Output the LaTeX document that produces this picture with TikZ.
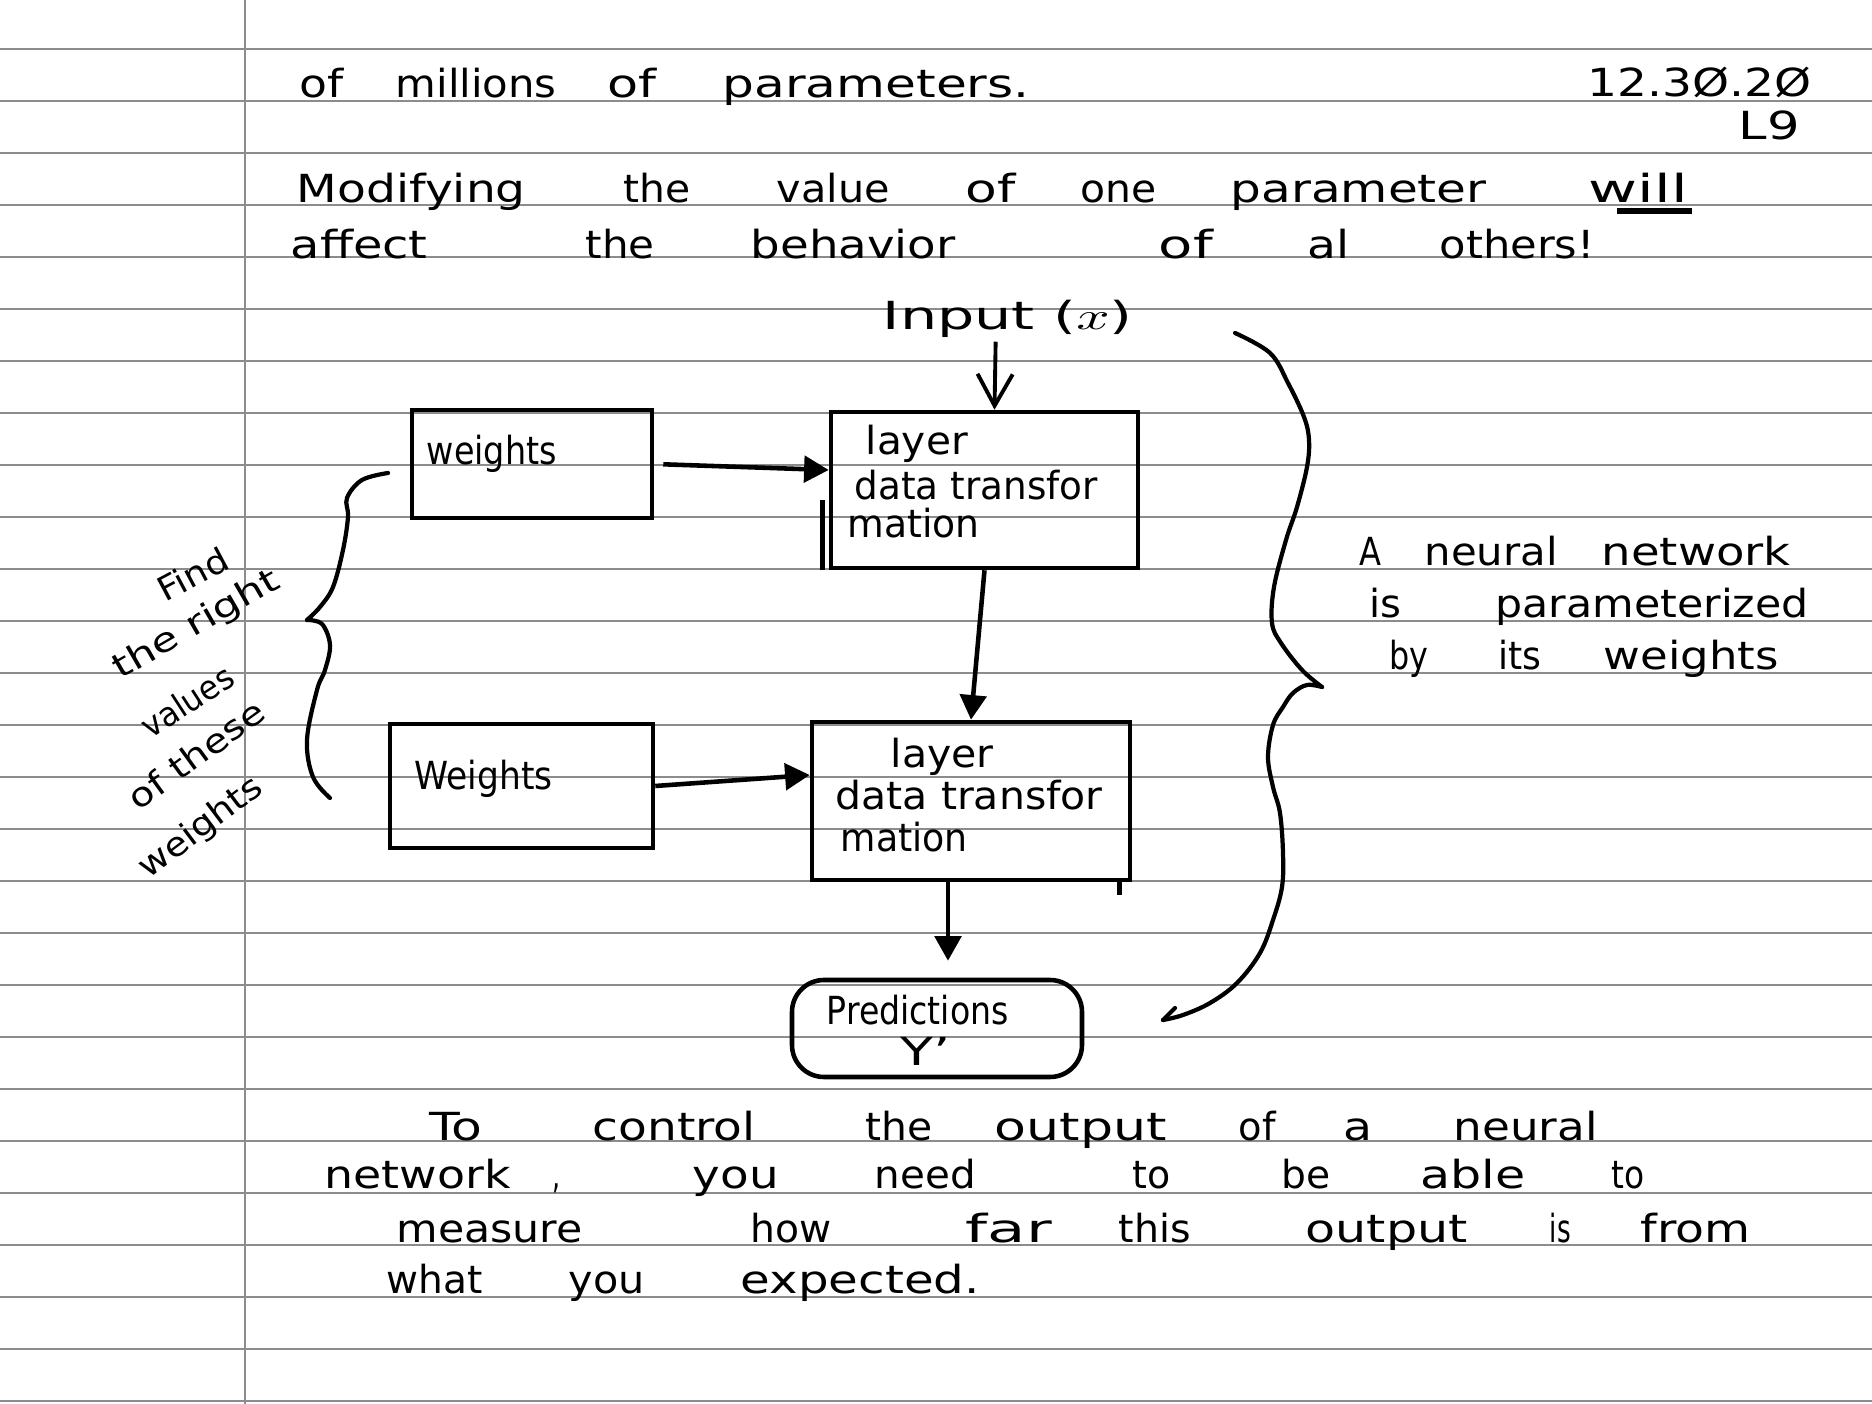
\documentclass[tikz,border=0pt]{standalone}
\usepackage{fontspec}
\setmainfont{DejaVu Sans}
\usepackage{graphicx}
\usetikzlibrary{arrows.meta}
\newlength\pxu
\setlength\pxu{0.01cm}
\newcommand\handfont{\fontsize{11pt}{13pt}\selectfont}
\newcommand\smallhand{\fontsize{9.5pt}{11pt}\selectfont}
\newcommand\textrow[3]{\foreach \wx/\wl/\wt [count=\wi] in {#3} {\node[word] (#1\wi) at (\wx,#2) {\resizebox{\wl\pxu}{\height}{\wt}};}}
\begin{document}
\begin{tikzpicture}[x=0.01cm,y=-0.01cm,
  word/.style={anchor=base west,inner sep=0pt,font=\handfont},
  slant/.style={anchor=base west,inner sep=0pt,font=\smallhand},
  box/.style={draw,line width=1.3pt,inner sep=0pt},
  tri/.style={-{Triangle[length=7pt,width=7.5pt]},line width=1.3pt},
  barb/.style={-{Straight Barb[length=9pt,width=10pt]},line width=1.1pt},
  rule/.style={black!45,line width=0.55pt},
  brace/.style={line width=1.2pt,line cap=round,line join=round}]
\fill[white] (0,0) rectangle (1872,1404);
\useasboundingbox (0,0) rectangle (1872,1404);
% lined paper
\foreach \k in {0,...,26} \draw[rule] (0,{49.3+52*\k}) -- (1872,{49.3+52*\k});
\draw[rule] (245,0) -- (245,1404);
% header
\textrow{h}{98}{299/44/of, 395/161/millions, 607/49/of, 722/307/parameters.}
\node[word] (date) at (1587,97) {\resizebox{224\pxu}{\height}{12.3Ø.2Ø}};
\node[word] (lec) at (1738,140) {\resizebox{61\pxu}{\height}{L9}};
\textrow{m}{203}{296/229/Modifying, 623/67/the, 776/113/value, 965/50/of, 1080/76/one, 1230/256/parameter, 1588/99/will}
\draw[line width=1.6pt] ([xshift=29\pxu,yshift=-8\pxu]m7.base west) -- ([xshift=4\pxu,yshift=-8\pxu]m7.base east);
\textrow{a}{259}{290/137/affect, 585/69/the, 750/205/behavior, 1158/54/of, 1307/42/al, 1439/155/others!}
% input
\node[word] (input) at (882,330) {\resizebox{250\pxu}{\height}{Input ($x$)}};
% boxes
\node[box, minimum width=240\pxu, minimum height=108\pxu] (w1) at (532,464) {};
\node[box, minimum width=307\pxu, minimum height=156\pxu] (L1) at (984.5,490) {};
\node[box, minimum width=263\pxu, minimum height=124\pxu] (w2) at (521.5,786) {};
\node[box, minimum width=318\pxu, minimum height=158\pxu] (L2) at (971,801) {};
\node[box, rounded corners=32\pxu, minimum width=290\pxu, minimum height=97\pxu] (P) at (937,1028.5) {};
% box texts
\node[word] (w1t) at (426,465) {\resizebox{130\pxu}{\height}{weights}};
\node[word] (L1a) at (865,455) {\resizebox{102\pxu}{\height}{layer}};
\node[word] (L1b) at (854,500) {\resizebox{243\pxu}{\height}{data transfor}};
\node[word] (L1c) at (847,538) {\resizebox{132\pxu}{\height}{mation}};
\node[word] (w2t) at (414,790) {\resizebox{138\pxu}{\height}{Weights}};
\node[word] (L2a) at (890,768) {\resizebox{103\pxu}{\height}{layer}};
\node[word] (L2b) at (835,810) {\resizebox{267\pxu}{\height}{data transfor}};
\node[word] (L2c) at (840,852) {\resizebox{127\pxu}{\height}{mation}};
\node[word] (Pa) at (826,1025) {\resizebox{182\pxu}{\height}{Predictions}};
\node[word] (Pb) at (900,1066) {\resizebox{50\pxu}{\height}{Y'}};
% extra hand strokes
\draw[line width=1.3pt] ([xshift=-6\pxu]L1.south west) -- ([xshift=-6\pxu,yshift=70\pxu]L1.south west);
\draw[line width=1.3pt] ([xshift=-13\pxu]L2.south east) -- ([xshift=-13\pxu,yshift=-13\pxu]L2.south east);
% arrows
\draw[barb, shorten <=3\pxu] ([xshift=-12\pxu]input.south) -- ([xshift=10\pxu]L1.north);
\draw[tri, shorten <=9\pxu] (w1.east) -- ([yshift=20\pxu]L1.west);
\draw[tri] (L1.south) -- (L2.north);
\draw[tri] (w2.east) -- ([yshift=26\pxu]L2.west);
\draw[tri, shorten >=17\pxu] ([xshift=-23\pxu]L2.south) -- ([xshift=11\pxu]P.north);
% right brace
\draw[brace] plot[smooth, tension=0.6] coordinates {(1235,333) (1270,353) (1288,383) (1304,417) (1309,440) (1307,467) (1297,507) (1286,540) (1274,587) (1272,623) (1281,643) (1302,670) (1322,687)};
\draw[brace] plot[smooth, tension=0.6] coordinates {(1322,687) (1307,685) (1293,693) (1283,707) (1273,725) (1268,757) (1273,787) (1280,813) (1283,853) (1282,887) (1273,920) (1260,953) (1237,983) (1210,1003) (1183,1015) (1163,1020)};
\draw[brace] (1163,1020) -- (1175,1008);
% right text
\textrow{r}{566}{1359/22/A, 1424/133/neural, 1601/189/network}
\textrow{s}{618}{1369/32/is, 1495/313/parameterized}
\textrow{t}{670}{1389/39/by, 1498/43/its, 1603/175/weights}
% left brace
\draw[brace] plot[smooth, tension=0.6] coordinates {(388,473) (362,480) (347,498) (348,517) (343,550) (333,587) (320,607) (307,620)};
\draw[brace] plot[smooth, tension=0.6] coordinates {(307,620) (322,624) (330,645) (325,670) (317,690) (307,740) (313,777) (330,798)};
% left rotated text
\node[slant, rotate=28] (f1) at (165,603) {\resizebox{75\pxu}{\height}{Find}};
\node[slant, rotate=30] (f2) at (120,680) {\resizebox{186\pxu}{\height}{the right}};
\node[slant, rotate=33] (f3) at (150,740) {\resizebox{103\pxu}{\height}{values}};
\node[slant, rotate=36] (f4) at (138,812) {\resizebox{160\pxu}{\height}{of these}};
\node[slant, rotate=37] (f5) at (148,880) {\resizebox{146\pxu}{\height}{weights}};
% bottom paragraph
\textrow{pa}{1141}{429/53/To, 592/163/control, 865/67/the, 994/172/output, 1238/37/of, 1343/29/a, 1453/144/neural}
\textrow{pb}{1189}{324/186/network, 552/8/{,}, 692/86/you, 874/101/need, 1132/38/to, 1281/49/be, 1420/105/able, 1611/33/to}
\textrow{pc}{1243}{396/186/measure, 750/81/how, 965/86/far, 1118/72/this, 1305/162/output, 1549/21/is, 1640/110/from}
\textrow{pd}{1294}{386/96/what, 568/76/you, 740/239/expected.}
\end{tikzpicture}
\end{document}
